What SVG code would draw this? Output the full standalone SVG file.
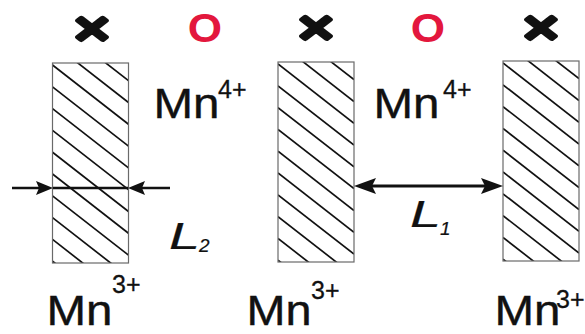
<svg xmlns="http://www.w3.org/2000/svg" xmlns:xlink="http://www.w3.org/1999/xlink" width="585" height="334" viewBox="0 0 585 334">
  <style>
    .frame { fill: none; stroke: #6a6a6a; stroke-width: 1.2; }
    .hl { stroke: #111; stroke-width: 1.7; }
    .mn { font-family: "Liberation Sans", Arial, sans-serif; font-size: 43px; fill: #111; stroke: #111; stroke-width: 0.4; }
    .sup { font-family: "Liberation Sans", Arial, sans-serif; font-size: 25px; fill: #111; stroke: #111; stroke-width: 0.3; }
    .cross { font-family: "Liberation Sans", Arial, sans-serif; font-size: 48px; fill: #111; stroke: #111; stroke-width: 4.6; stroke-linejoin: round; text-anchor: middle; }
    .ring { font-family: "Liberation Sans", Arial, sans-serif; font-weight: bold; font-size: 42px; fill: #e3173d; text-anchor: middle; }
    .len { font-family: "Liberation Sans", Arial, sans-serif; font-style: italic; fill: #111; stroke: #111; stroke-width: 0.2; }
    .arr2 { stroke: #111; stroke-width: 2.6; fill: none; }
    .arr1 { stroke: #111; stroke-width: 3; fill: none; }
  </style>
  <defs>
    <clipPath id="clipBar" clipPathUnits="userSpaceOnUse">
      <rect x="0" y="0" width="76" height="200"/>
    </clipPath>
    <g id="bar">
      <rect width="76" height="200" fill="#fff"/>
      <g clip-path="url(#clipBar)" class="hl">
        <line x1="0" y1="-41.6" x2="76" y2="17.7"/>
        <line x1="0" y1="-19.8" x2="76" y2="39.5"/>
        <line x1="0" y1="2" x2="76" y2="61.3"/>
        <line x1="0" y1="23.8" x2="76" y2="83.1"/>
        <line x1="0" y1="45.6" x2="76" y2="104.9"/>
        <line x1="0" y1="67.4" x2="76" y2="126.7"/>
        <line x1="0" y1="89.2" x2="76" y2="148.5"/>
        <line x1="0" y1="111" x2="76" y2="170.3"/>
        <line x1="0" y1="132.8" x2="76" y2="192.1"/>
        <line x1="0" y1="154.6" x2="76" y2="213.9"/>
        <line x1="0" y1="176.4" x2="76" y2="235.7"/>
        <line x1="0" y1="198.2" x2="76" y2="257.5"/>
      </g>
      <rect class="frame" width="76" height="200"/>
    </g>
    <marker id="headS" markerUnits="userSpaceOnUse" viewBox="0 0 17 14" refX="11" refY="7" markerWidth="17" markerHeight="14" orient="auto-start-reverse">
      <path d="M0,0 L17,7 L0,14 L3,7 Z" fill="#111"/>
    </marker>
    <marker id="headL" markerUnits="userSpaceOnUse" viewBox="0 0 22 16" refX="16" refY="8" markerWidth="22" markerHeight="16" orient="auto-start-reverse">
      <path d="M0,0 L22,8 L0,16 L4,8 Z" fill="#111"/>
    </marker>
  </defs>
  <rect width="585" height="334" fill="#fff"/>

  <g id="symbols">
    <text class="cross" transform="translate(92,45) scale(1.3,1)">×</text>
    <text class="ring" transform="translate(205,42) scale(1.05,0.95)">O</text>
    <text class="cross" transform="translate(316,44) scale(1.3,1)">×</text>
    <text class="ring" transform="translate(428,42) scale(1.05,0.95)">O</text>
    <text class="cross" transform="translate(541,43.5) scale(1.3,1)">×</text>
  </g>

  <g id="bar1"><use xlink:href="#bar" transform="translate(52.5,63)"/></g>
  <g id="bar2"><use xlink:href="#bar" transform="translate(278,62)"/></g>
  <g id="bar3"><use xlink:href="#bar" transform="translate(503,61)"/></g>

  <g id="connectors">
    <line class="arr2" x1="12" y1="188" x2="47" y2="188" marker-end="url(#headS)"/>
    <line class="arr2" x1="53" y1="188" x2="128" y2="188"/>
    <line class="arr2" x1="170" y1="188" x2="134" y2="188" marker-end="url(#headS)"/>
    <line class="arr1" x1="360" y1="186" x2="497" y2="186" marker-start="url(#headL)" marker-end="url(#headL)"/>
  </g>

  <g id="mn4a">
    <text class="mn" x="153.5" y="118" textLength="66" lengthAdjust="spacingAndGlyphs">Mn</text>
    <text class="sup" x="218" y="98">4+</text>
  </g>
  <g id="mn4b">
    <text class="mn" x="373.5" y="118" textLength="66" lengthAdjust="spacingAndGlyphs">Mn</text>
    <text class="sup" x="443" y="98">4+</text>
  </g>
  <g id="mn3a">
    <text class="mn" x="46.5" y="325" textLength="66" lengthAdjust="spacingAndGlyphs">Mn</text>
    <text class="sup" x="112" y="293">3+</text>
  </g>
  <g id="mn3b">
    <text class="mn" x="246.5" y="325" textLength="65" lengthAdjust="spacingAndGlyphs">Mn</text>
    <text class="sup" x="311" y="299">3+</text>
  </g>
  <g id="mn3c">
    <text class="mn" x="494.5" y="325" textLength="66" lengthAdjust="spacingAndGlyphs">Mn</text>
    <text class="sup" x="556" y="308">3+</text>
  </g>
  <g id="lenL2">
    <text class="len" x="169" y="249" font-size="36" textLength="31" lengthAdjust="spacingAndGlyphs">L</text>
    <text class="len" x="199" y="252" font-size="19">2</text>
  </g>
  <g id="lenL1">
    <text class="len" x="410" y="227" font-size="36" textLength="31" lengthAdjust="spacingAndGlyphs">L</text>
    <text class="len" x="440" y="235" font-size="19">1</text>
  </g>
</svg>
